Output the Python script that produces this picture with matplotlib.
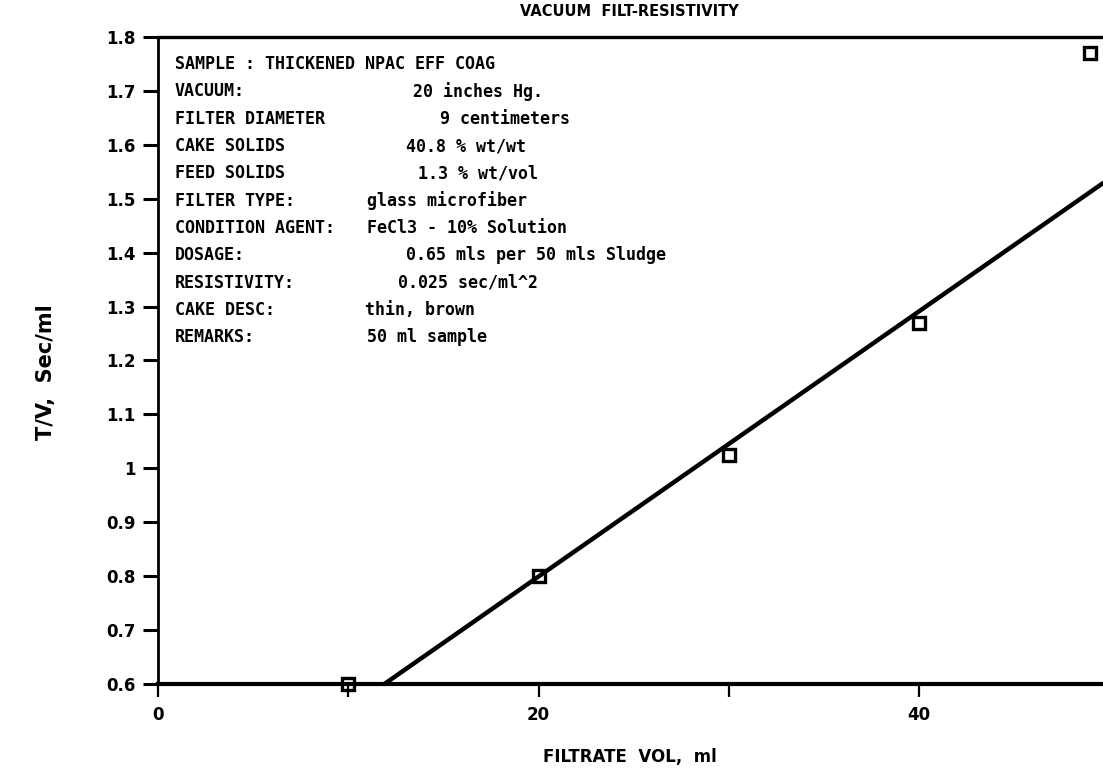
import matplotlib
matplotlib.use("Agg")
import matplotlib.pyplot as plt

# measured points
filtrate_vol = [10, 20, 30, 40, 49]
t_over_v = [0.6, 0.8, 1.025, 1.27, 1.77]

# fitted straight line (end points)
fit_x = [11.9, 49.7]
fit_y = [0.6, 1.53]

x_ticks = [0, 10, 20, 30, 40]
x_tick_labels = ["0", "", "20", "", "40"]
y_ticks = [0.6, 0.7, 0.8, 0.9, 1.0, 1.1, 1.2, 1.3, 1.4, 1.5, 1.6, 1.7, 1.8]
y_tick_labels = ["0.6", "0.7", "0.8", "0.9", "1", "1.1", "1.2", "1.3",
                 "1.4", "1.5", "1.6", "1.7", "1.8"]

info_labels = ["SAMPLE : THICKENED NPAC EFF COAG", "VACUUM:", "FILTER DIAMETER",
               "CAKE SOLIDS", "FEED SOLIDS", "FILTER TYPE:", "CONDITION AGENT:",
               "DOSAGE:", "RESISTIVITY:", "CAKE DESC:", "REMARKS:"]
info_values = ["", "20 inches Hg.", "9 centimeters", "40.8 % wt/wt",
               "1.3 % wt/vol", "glass microfiber", "FeCl3 - 10% Solution",
               "0.65 mls per 50 mls Sludge", "0.025 sec/ml^2", "thin, brown",
               "50 ml sample"]
value_x = [0.0, 0.270, 0.298, 0.263, 0.275, 0.221, 0.221, 0.263, 0.254, 0.219, 0.221]

fig = plt.figure(figsize=(11.03, 7.76), dpi=100)
ax = fig.add_axes([0.1432, 0.1186, 0.8568, 0.8337])

ax.plot(fit_x, fit_y, color="black", lw=3.2, solid_capstyle="butt", zorder=3)
ax.plot(filtrate_vol, t_over_v, ls="none", marker="s", ms=9,
        mfc="none", mec="black", mew=2.4, zorder=2, clip_on=False)

ax.set_xlim(0, 49.66)
ax.set_ylim(0.6, 1.8)

ax.set_xticks(x_ticks)
ax.set_xticklabels(x_tick_labels)
ax.set_yticks(y_ticks)
ax.set_yticklabels(y_tick_labels)

for lbl in ax.get_xticklabels() + ax.get_yticklabels():
    lbl.set_fontweight("bold")
    lbl.set_fontsize(12)

ax.tick_params(axis="y", direction="out", length=11, width=2.2, pad=5)
ax.tick_params(axis="x", direction="out", length=9, width=1.6, pad=7)

ax.spines["right"].set_visible(False)
ax.spines["bottom"].set_linewidth(3.0)
ax.spines["left"].set_linewidth(2.0)
ax.spines["top"].set_linewidth(2.4)

# info block
mono = ["DejaVu Sans Mono"]
y0 = 0.958
dy = 0.0422
for i, (lab, val) in enumerate(zip(info_labels, info_values)):
    y = y0 - i * dy
    ax.text(0.018, y, lab, transform=ax.transAxes, family=mono,
            fontweight="bold", fontsize=12, va="center", ha="left")
    if val:
        ax.text(value_x[i], y, val, transform=ax.transAxes, family=mono,
                fontweight="bold", fontsize=12, va="center", ha="left")

fig.text(0.571, 0.985, "VACUUM  FILT-RESISTIVITY", ha="center", va="center",
         fontsize=10.5, fontweight="bold")
fig.text(0.571, 0.024, "FILTRATE  VOL,  ml", ha="center", va="center",
         fontsize=12, fontweight="bold")
fig.text(0.042, 0.52, "T/V,  Sec/ml", ha="center", va="center",
         rotation=90, fontsize=15, fontweight="bold")

plt.savefig("out.png", dpi=100)
